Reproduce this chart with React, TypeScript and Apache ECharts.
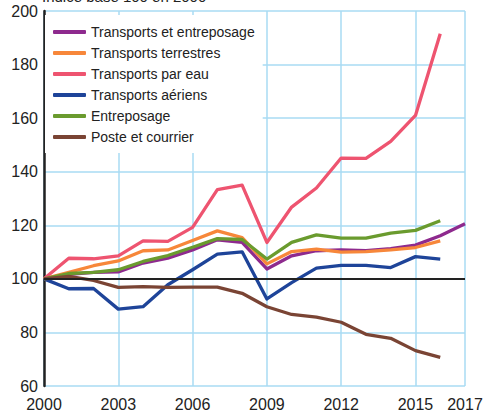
import React, { useEffect, useRef } from "react";
import * as echarts from "echarts";

const years = [2000, 2001, 2002, 2003, 2004, 2005, 2006, 2007, 2008, 2009, 2010, 2011, 2012, 2013, 2014, 2015, 2016, 2017];

const transportsEtEntreposage = [100, 101.7, 102.4, 102.6, 105.9, 107.7, 110.8, 114.6, 113.6, 103.7, 108.6, 110.5, 110.8, 110.5, 111.3, 112.6, 116.1, 120.6];
const transportsTerrestres = [100, 102.4, 104.9, 106.7, 110.5, 110.8, 114.3, 117.9, 115.4, 105.6, 110.2, 111.1, 110.0, 110.2, 110.8, 111.7, 114.2];
const transportsParEau = [100, 107.7, 107.5, 108.6, 114.2, 114.0, 119.2, 133.3, 135.0, 113.6, 126.8, 133.9, 145.1, 145.0, 151.3, 161.0, 191.5];
const transportsAeriens = [100, 96.3, 96.4, 88.7, 89.6, 97.8, 103.4, 109.2, 110.1, 92.5, 98.6, 104.0, 105.0, 105.0, 104.2, 108.3, 107.4];
const entreposage = [100, 102.0, 102.4, 103.4, 106.5, 108.7, 111.8, 115.0, 114.7, 107.4, 113.6, 116.4, 115.2, 115.2, 117.1, 118.1, 121.7];
const posteEtCourrier = [100, 100.9, 99.4, 96.8, 97.1, 96.8, 96.9, 96.9, 94.6, 89.6, 86.7, 85.7, 83.8, 79.3, 77.8, 73.2, 70.7];

const seriesNames = [
  "Transports et entreposage",
  "Transports terrestres",
  "Transports par eau",
  "Transports aériens",
  "Entreposage",
  "Poste et courrier",
];
const seriesValues = [
  transportsEtEntreposage,
  transportsTerrestres,
  transportsParEau,
  transportsAeriens,
  entreposage,
  posteEtCourrier,
];
const seriesColors = ["#8e2a8e", "#f7873a", "#ee5470", "#1e4499", "#6a9b2e", "#7a4434"];

const titleText = "Indice base 100 en 2000";
const FONT = "'Liberation Sans', Arial, sans-serif";

export default function App() {
  const ref = useRef<HTMLDivElement>(null);
  useEffect(() => {
    if (!ref.current) return;
    const chart = echarts.init(ref.current, undefined, { renderer: "svg" });
    const series: any[] = seriesNames.map((name, i) => ({
      name,
      type: "line",
      data: seriesValues[i].map((v, j) => [years[j], v]),
      showSymbol: false,
      symbol: "none",
      lineStyle: { color: seriesColors[i], width: 3.3, join: "round" },
      itemStyle: { color: seriesColors[i] },
      z: 3,
    }));
    series.push({
      name: "ref100",
      type: "line",
      data: [],
      markLine: {
        silent: true,
        symbol: "none",
        label: { show: false },
        lineStyle: { color: "#222", width: 2, type: "solid" },
        data: [{ yAxis: 100 }],
      },
      z: 2,
    });
    chart.setOption({
      animation: false,
      textStyle: { fontFamily: FONT },
      grid: { left: 44, right: 21, top: 11, bottom: 32, containLabel: false },
      graphic: [
        {
          type: "text",
          left: 42,
          top: -11,
          style: { text: titleText, fontSize: 15, fontFamily: FONT, fill: "#222" },
        },
      ],
      legend: {
        data: seriesNames,
        orient: "vertical",
        left: 45,
        top: 15,
        padding: [9, 8, 8, 8],
        backgroundColor: "#ffffff",
        itemWidth: 33,
        itemHeight: 4,
        itemGap: 5,
        icon: "roundRect",
        textStyle: { fontSize: 14, lineHeight: 16, color: "#222", fontFamily: FONT },
      },
      xAxis: {
        type: "value",
        min: 2000,
        max: 2017,
        interval: 3,
        axisLine: { show: false },
        axisTick: { show: false },
        splitLine: { show: true, lineStyle: { color: "#a9dbf3", width: 1.5 } },
        axisLabel: {
          formatter: (v: number) => String(v),
          fontSize: 16,
          color: "#222",
          margin: 10,
          fontFamily: FONT,
        },
      },
      yAxis: {
        type: "value",
        min: 60,
        max: 200,
        interval: 20,
        axisLine: { show: true, lineStyle: { color: "#222", width: 2.5 } },
        axisTick: { show: false },
        splitLine: { show: true, lineStyle: { color: "#a9dbf3", width: 1.5 } },
        axisLabel: { fontSize: 16, color: "#222", margin: 6, fontFamily: FONT },
      },
      series,
    });
    return () => chart.dispose();
  }, []);
  return <div ref={ref} style={{ width: 486, height: 418, position: "absolute", left: 0, top: 0 }} />;
}
